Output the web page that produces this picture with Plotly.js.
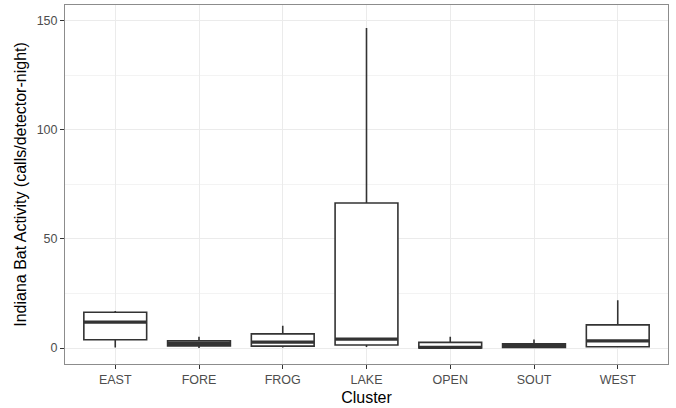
<!DOCTYPE html>
<html>
<head>
<meta charset="utf-8">
<script src="https://cdn.plot.ly/plotly-3.0.1.min.js"></script>
<style>html,body{margin:0;padding:0;background:#fff;}#chart{width:676px;height:408px;}</style>
</head>
<body>
<div id="chart"></div>
<script>
const clusters = ["EAST", "FORE", "FROG", "LAKE", "OPEN", "SOUT", "WEST"];
const lowerWhisker = [0.3, 0.0, 0.3, 0.5, 0.0, 0.0, 0.2];
const q1 = [3.8, 1.0, 0.9, 1.4, 0.0, 0.3, 0.6];
const median = [11.9, 2.1, 2.7, 4.1, 0.3, 1.1, 3.3];
const q3 = [16.4, 3.3, 6.5, 66.4, 2.6, 2.0, 10.6];
const upperWhisker = [17.0, 5.2, 10.2, 146.6, 5.2, 3.9, 21.9];
const yTicks = [0, 50, 100, 150];

const boxTrace = {
  type: 'box',
  x: clusters,
  q1: q1,
  median: median,
  q3: q3,
  lowerfence: lowerWhisker,
  upperfence: upperWhisker,
  width: 0.75,
  whiskerwidth: 0,
  fillcolor: '#ffffff',
  line: {color: '#333333', width: 1.6},
  boxpoints: false,
  hoverinfo: 'none'
};

// thick median bar (ggplot draws the median with a heavier line)
const medianTrace = {
  type: 'box',
  x: clusters,
  q1: median,
  median: median,
  q3: median,
  lowerfence: median,
  upperfence: median,
  width: 0.75,
  whiskerwidth: 0,
  fillcolor: 'rgba(0,0,0,0)',
  line: {color: '#333333', width: 3.2},
  boxpoints: false,
  hoverinfo: 'none'
};

const layout = {
  width: 676, height: 408,
  margin: {l: 65, r: 8, t: 5, b: 44},
  paper_bgcolor: '#ffffff',
  plot_bgcolor: '#ffffff',
  showlegend: false,
  boxmode: 'overlay',
  font: {family: 'Liberation Sans, Arial, sans-serif'},
  xaxis: {
    type: 'category',
    range: [-0.6, 6.6],
    showgrid: true, gridcolor: '#ebebeb', gridwidth: 1,
    ticks: 'outside', ticklen: 4, tickcolor: '#333333', tickwidth: 1,
    tickfont: {size: 12.5, color: '#4d4d4d'},
    showline: true, linecolor: '#8c8c8c', linewidth: 1, mirror: true,
    zeroline: false,
    title: {text: 'Cluster', font: {size: 16, color: '#000000'}, standoff: 5}
  },
  yaxis: {
    range: [-7.3, 157.1],
    tickvals: yTicks,
    ticktext: yTicks.map(String),
    showgrid: true, gridcolor: '#ebebeb', gridwidth: 1,
    minor: {tickvals: [25, 75, 125], showgrid: true, gridcolor: '#f3f3f3', gridwidth: 1, ticks: ''},
    ticks: 'outside', ticklen: 4, tickcolor: '#333333', tickwidth: 1,
    tickfont: {size: 12.5, color: '#4d4d4d'},
    showline: true, linecolor: '#8c8c8c', linewidth: 1, mirror: true,
    zeroline: false,
    title: {text: 'Indiana Bat Activity (calls/detector-night)', font: {size: 16, color: '#000000'}, standoff: 6}
  }
};

Plotly.newPlot('chart', [boxTrace, medianTrace], layout, {staticPlot: true, displayModeBar: false});
</script>
</body>
</html>
